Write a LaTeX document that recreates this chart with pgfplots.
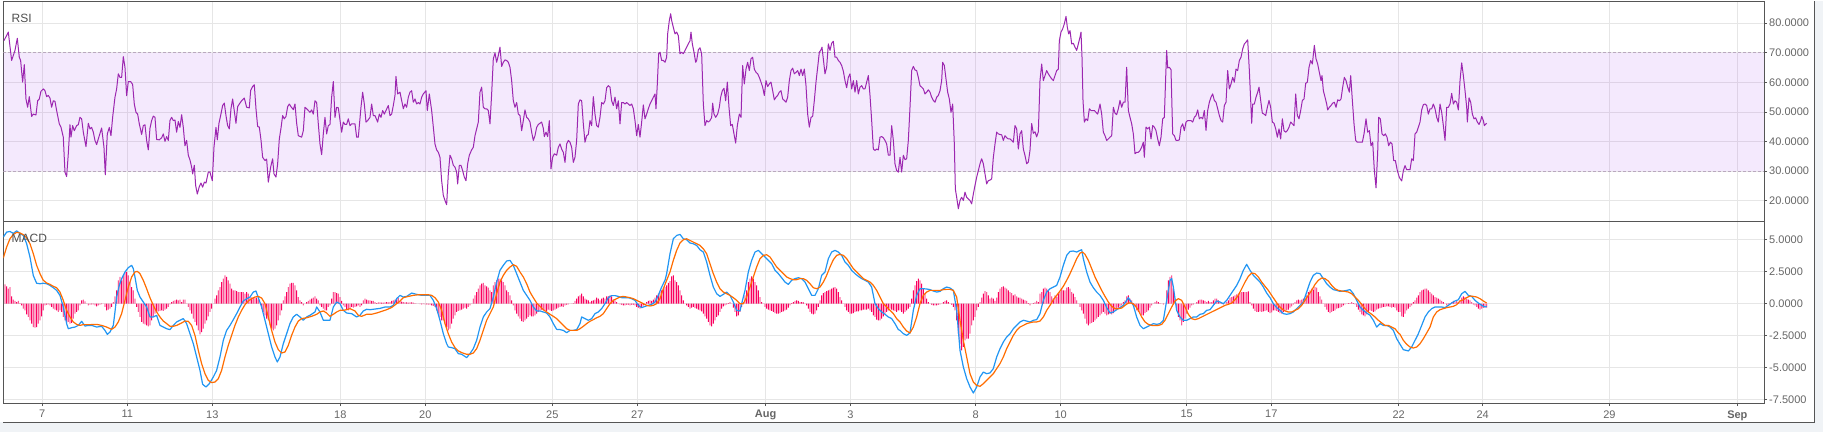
\documentclass[border=0pt]{standalone}
\usepackage{pgfplots}
\pgfplotsset{compat=1.18}
\usepackage{fontspec}
\setmainfont{Liberation Sans}
\definecolor{framecol}{RGB}{85,85,85}
\definecolor{gridcol}{RGB}{230,230,230}
\definecolor{tickcol}{RGB}{102,102,102}
\definecolor{rsicol}{RGB}{156,39,176}
\definecolor{bandcol}{RGB}{163,55,238}
\definecolor{dashcol}{RGB}{185,168,190}
\definecolor{macdcol}{RGB}{33,150,243}
\definecolor{sigcol}{RGB}{255,109,0}
\definecolor{histcol}{RGB}{250,0,95}
\definecolor{bgcol}{RGB}{240,243,246}
\definecolor{titlecol}{RGB}{80,80,80}
\pgfplotsset{panel/.style={
  scale only axis, width=1760.7pt, xmin=10, xmax=5292,
  axis line style={draw=framecol, line width=1pt},
  grid=major, major grid style={draw=gridcol, line width=1pt},
  xtick={127,382,637,1021,1276,1657,1912,2297,2551,2927,3182,3560,3814,4196,4448,4828,5212},
  ytick pos=right, yticklabel pos=right, xtick pos=bottom,
  tick align=outside, major tick length=3pt,
  tick style={draw=framecol, line width=0.8pt},
  yticklabel style={font=\fontsize{11}{13}\selectfont, text=tickcol, anchor=west, inner sep=0pt, xshift=2pt,
    /pgf/number format/fixed, /pgf/number format/fixed zerofill,
    /pgf/number format/precision=4, /pgf/number format/assume math mode=true},
}}
\begin{document}
\begin{tikzpicture}[x=1pt,y=1pt]
\fill[white] (0,0) rectangle (1823,-431);
\fill[bgcol] (0,-421.7) rectangle (1823,-431);
\fill[bgcol] (1814,0) rectangle (1823,-431);
% RSI panel
\begin{axis}[panel, at={(3.3pt,-1pt)}, anchor=north west, height=219.5pt,
  ymin=13.18, ymax=87.33, ytick={20,30,40,50,60,70,80},
  xticklabels={}, xtick style={draw=none}]
\addplot[draw=none, fill=bandcol, fill opacity=0.11, forget plot] coordinates {(10,30) (5292,30) (5292,70) (10,70)};
\addplot[dashcol, line width=0.9pt, dash pattern=on 3pt off 2pt, forget plot] coordinates {(10,70) (5292,70)};
\addplot[dashcol, line width=0.9pt, dash pattern=on 3pt off 2pt, forget plot] coordinates {(10,30) (5292,30)};
\addplot[rsicol, line width=1pt, line join=round] coordinates {
(12,74.1) (25,77) (35,67.4) (45,70.8) (52,74.9) (58,68.5) (62,67.4) (68,60.1) (73,66) (78,54.4) (83,51.6) (88,55.2) (95,48.5) (100,49.3) (108,49) (113,53.8) (118,54.4) (123,57) (130,57.8) (135,57.2) (140,55.2) (145,55.6) (150,54.7) (155,51.6) (160,53.8) (165,53.6) (170,50.5) (178,46) (183,44.9) (190,41.5) (195,29.7) (200,28.2) (205,35.9) (210,45.7) (213,41.5) (218,45.4) (223,43.7) (230,45.4) (235,45.7) (240,48.2) (245,47.7) (250,43.2) (258,38.3) (265,46.2) (270,44.3) (275,44.8) (280,43.2) (285,40.4) (290,39) (295,40.9) (305,44.6) (312,38.1) (316,28.8) (322,42.6) (328,44.8) (333,42) (338,48.2) (345,55) (350,57.8) (355,62.9) (360,61.7) (365,61.7) (370,68.7) (375,65.1) (380,55.5) (385,60.3) (392,60.3) (398,59.3) (403,52.7) (408,49.9) (413,49.3) (418,46) (425,42.4) (430,45.4) (435,45.7) (440,40.4) (445,37.2) (450,44.5) (455,47.1) (460,48.6) (465,48.2) (470,40.7) (478,40.6) (485,41.3) (490,42.6) (495,40.1) (500,41.7) (505,40.4) (510,47.1) (515,48.2) (520,47.1) (525,47.3) (530,43.2) (535,46.8) (540,44.8) (545,49.1) (550,44.8) (555,38.6) (560,40.4) (565,35.4) (570,33.8) (575,31.4) (578,29.1) (583,32) (587,25.2) (592,22.3) (598,24.8) (603,26) (608,24.6) (613,26.3) (618,26) (625,29.7) (630,29.7) (637,26.8) (642,38.1) (648,44.8) (652,40.6) (657,46.2) (662,48.8) (668,52.2) (673,53) (678,48.8) (683,45.4) (688,44.3) (693,51.1) (698,54.4) (703,50.3) (708,46.2) (713,51.8) (718,52.7) (725,53.8) (733,54.7) (740,51.6) (748,51.4) (752,57.3) (758,58.6) (763,59.2) (768,51.1) (773,45.1) (778,44.9) (783,40.6) (788,34.7) (795,33.6) (800,34.1) (805,26.3) (812,31.4) (818,34.2) (822,29.1) (828,28) (833,32.5) (838,40.9) (843,44.5) (848,48.8) (853,47.7) (858,48.5) (863,51.8) (868,52.7) (873,51.8) (880,50.8) (885,52.7) (890,46.2) (895,42) (905,41.5) (910,43.7) (915,51.6) (920,51.1) (925,50.5) (930,49.9) (935,50.7) (940,49.3) (945,53.8) (950,53.2) (955,46) (960,39.2) (965,35.6) (970,42.6) (975,48.2) (980,42.6) (985,45.4) (990,45.8) (995,55) (1000,60.3) (1005,48.2) (1010,51.6) (1015,51.4) (1020,47.3) (1025,43.2) (1030,46.6) (1035,45.8) (1040,45.8) (1045,47.7) (1050,45.4) (1055,46) (1065,46) (1070,41.5) (1075,41.5) (1083,51.6) (1088,56.7) (1093,52.7) (1098,46.6) (1103,47.1) (1110,48.2) (1115,52.7) (1120,48.8) (1125,48.8) (1133,46.6) (1138,49.3) (1143,48.2) (1148,50.5) (1153,49.3) (1158,50.5) (1165,52.2) (1170,48.8) (1175,49.3) (1180,52.2) (1185,55.6) (1188,62) (1193,56.1)
(1200,56.7) (1205,53.9) (1210,51.1) (1215,52.7) (1220,51.6) (1225,55) (1230,56.7) (1235,57.2) (1240,53.3) (1245,54.4) (1250,52.7) (1255,53.2) (1260,52.7) (1265,55) (1270,56.1) (1278,57.2) (1282,50.5) (1288,56.1) (1295,50.5) (1300,44.9) (1305,39.2) (1310,37.2) (1315,36.4) (1320,34.7) (1325,26.8) (1330,21.8) (1335,20.1) (1340,18.7) (1345,29.1) (1350,35.4) (1355,34.2) (1360,32) (1365,31.4) (1370,29.7) (1373,25.7) (1378,32) (1383,32) (1388,30.2) (1393,28) (1398,26.8) (1403,32.5) (1408,35.4) (1415,37.2) (1420,38.1) (1425,42) (1430,44.3) (1435,46.6) (1440,56.7) (1445,58.4) (1450,51.6) (1455,51.1) (1460,51.1) (1465,50.5) (1470,46) (1475,56.1) (1480,68) (1485,69.9) (1490,66.8) (1495,69.1) (1500,71.9) (1505,65.4) (1510,66.8) (1515,67.6) (1520,67.4) (1525,66.8) (1530,65.1) (1535,60.6) (1540,53.8) (1545,51.6) (1550,53.2) (1555,49.3) (1560,48.8) (1565,43.7) (1570,47.1) (1575,50.7) (1580,48.2) (1585,47.7) (1590,46.6) (1595,43.2) (1600,40.4) (1605,42) (1610,44.8) (1615,45.8) (1620,46.2) (1625,46.6) (1630,44.5) (1633,41.7) (1638,43.2) (1643,41.7) (1648,47.1) (1653,30.8) (1658,34.7) (1663,35.9) (1670,35.4) (1675,38.1) (1680,39.2) (1685,37.5) (1690,36.4) (1695,33) (1700,39.2) (1705,40.4) (1710,39.8) (1715,38.1) (1720,33) (1725,34.7) (1730,40.4) (1735,52.7) (1740,54.1) (1745,53.8) (1750,46) (1755,39.8) (1760,42) (1765,42.4) (1770,47.1) (1775,45.4) (1780,55.2) (1785,49.3) (1790,45.4) (1795,44.9) (1800,48.2) (1805,53.2) (1810,52.7) (1815,53.8) (1820,58.2) (1825,58.9) (1830,58.4) (1835,53.8) (1840,52.2) (1845,55) (1850,51.1) (1855,53.8) (1860,46) (1865,53.2) (1870,53.2) (1875,52.7) (1880,53.2) (1890,52.2) (1895,52.7) (1900,51.1) (1905,47.1) (1910,42) (1915,45.8) (1920,41.5) (1925,46.6) (1930,52.4) (1935,47.7) (1940,49.3) (1945,51.1) (1950,52.7) (1955,53.8) (1960,55) (1965,56.1) (1968,51.1) (1972,59.5) (1976,69.7) (1980,70.2) (1985,67.4) (1990,67.4) (1995,66.8) (2000,68.5) (2003,76.4) (2008,80.9) (2012,83.2) (2015,80.9) (2020,78.6) (2025,76.4) (2030,77) (2035,75.8) (2040,69.7) (2045,70.2) (2050,69.7) (2055,70.8) (2060,71.9) (2065,73) (2070,74.1) (2073,77) (2077,73) (2082,70.2) (2087,66.8) (2090,67.4) (2095,71) (2100,71.7) (2105,69.7) (2110,52.7) (2115,45.4) (2120,47.1) (2125,46.6) (2130,47.1) (2135,48.2) (2138,53) (2142,49.3) (2147,48.2) (2153,49.3) (2158,51.6) (2162,55) (2167,57.2) (2172,58) (2177,53.8) (2182,60.1) (2187,51.6) (2192,45.4) (2197,45.8) (2202,42.6) (2207,39.5) (2212,45.4) (2218,49.3) (2223,48.2) (2228,65.7) (2233,59.5) (2238,64.5) (2243,66.8) (2248,64) (2253,68) (2258,68.5) (2263,64.5) (2268,63.4) (2273,62.9) (2278,61.7) (2283,60.1) (2288,58.4) (2293,55.6) (2298,60.6) (2303,58.6) (2308,59.5) (2313,60.1) (2318,57.2) (2323,54.1) (2328,55) (2333,55.6) (2338,56.7) (2343,57.2) (2348,54.4) (2353,53.9) (2358,53.3) (2363,55) (2368,60.6) (2373,64) (2378,64.8) (2383,62.9) (2388,63.4) (2393,64) (2398,62.3) (2403,64.5) (2408,62.3) (2413,64.5) (2418,58.9) (2423,49.3) (2428,44.9) (2433,48.2) (2438,48.5) (2443,53.9) (2448,60.1) (2453,65.1) (2458,70.2) (2463,71) (2466,71.9) (2470,67.9) (2475,62.9) (2480,65.1) (2485,73) (2490,70.8) (2495,73.2) (2500,73.9) (2505,68.5) (2510,68.5) (2515,67.4) (2520,66.8) (2525,65.7) (2530,63.8) (2535,60.6) (2540,58.2) (2545,61.7) (2550,62.9) (2555,57.8) (2560,60.6) (2565,56.7) (2570,60.6) (2575,56.1) (2580,58.4) (2585,58.9) (2590,57.8) (2595,57.8) (2600,60.1) (2605,62.3) (2610,55.6) (2615,47.1) (2620,37.5) (2625,37) (2630,37.5) (2635,37.2) (2640,41.5) (2645,41.7) (2650,41.3) (2655,40.4) (2660,39.2) (2665,35.4) (2670,35.4) (2675,45.4) (2680,40.4) (2685,32.5) (2690,30.2) (2695,29.7)
(2700,34.7) (2705,29.7) (2710,35.4) (2715,33.9) (2720,34.2) (2725,40.4) (2730,51.6) (2735,64) (2740,65.4) (2745,64.2) (2750,64) (2755,61.7) (2760,58.9) (2765,58.4) (2770,57.8) (2775,56.1) (2780,56.7) (2785,57.5) (2790,56.7) (2795,55) (2800,53.9) (2805,53.3) (2810,55) (2815,55.6) (2820,57.2) (2825,60.6) (2828,66.8) (2833,65.7) (2838,61.2) (2843,56.7) (2848,54.4) (2853,49.9) (2858,52.7) (2863,39.2) (2866,24) (2870,21.2) (2875,17.3) (2880,20.1) (2885,21.2) (2890,20.1) (2895,22.9) (2900,21.2) (2905,20.6) (2910,20.1) (2915,19) (2920,22.3) (2925,25.2) (2930,28) (2935,30.2) (2940,32.5) (2945,34.2) (2950,32.5) (2955,29.1) (2960,25.7) (2965,26.8) (2970,27) (2975,27.4) (2980,34.7) (2985,39.2) (2990,43.2) (2995,42.6) (3000,42.4) (3005,42.3) (3010,40.4) (3015,42) (3020,41.3) (3025,40.9) (3030,40.9) (3035,40.4) (3040,39.8) (3045,45.4) (3050,44.3) (3055,37.5) (3060,42.6) (3065,43.7) (3070,37.5) (3075,35.3) (3080,32.5) (3085,33.1) (3090,37.1) (3095,46.1) (3100,42.8) (3105,43.3) (3110,41.6) (3115,43.3) (3120,60.6) (3125,66.2) (3130,60.6) (3135,62.3) (3140,64) (3145,62.9) (3150,62) (3155,61.2) (3160,60.6) (3165,62.3) (3170,64) (3175,64.5) (3178,74.1) (3183,77) (3188,78.1) (3193,79.8) (3198,82.3) (3202,78.6) (3206,76.4) (3210,77.5) (3215,73) (3220,73.2) (3225,71.9) (3230,70.8) (3235,73) (3240,75.3) (3243,77) (3246,68.5) (3249,53.9) (3253,46.6) (3258,47.7) (3263,47.1) (3268,51.1) (3273,50.5) (3283,50.5) (3288,49.9) (3293,49.3) (3298,51.6) (3300,52.7) (3305,49.3) (3310,43.2) (3315,42) (3320,40.4) (3325,40.9) (3330,41.5) (3335,42) (3340,51.6) (3345,49.6) (3350,49.1) (3355,51.1) (3360,53.9) (3365,51.6) (3370,53.3) (3375,53.3) (3380,65.1) (3385,50.5) (3390,48.2) (3395,46) (3400,42.6) (3405,35.9) (3410,36.4) (3415,36.4) (3420,37) (3425,38.1) (3430,39.8) (3433,34.7) (3438,44.9) (3443,44.3) (3448,44.9) (3453,40.9) (3458,45.4) (3463,44.9) (3468,43.7) (3473,40.9) (3478,38.6) (3483,41.5) (3488,47.7) (3493,48.2) (3497,61.7) (3500,70.8) (3503,64.9) (3508,65.1) (3513,64.3) (3518,42.6) (3523,42) (3528,40.4) (3533,40.4) (3538,40.6) (3543,44.9) (3548,46) (3553,43.7) (3558,46.6) (3563,47.1) (3573,47.1) (3578,46.6) (3583,48.2) (3588,48.8) (3593,50.7) (3598,47.7) (3603,48.2) (3608,47.7) (3613,50.5) (3618,43.8) (3623,50.5) (3628,53.3) (3633,55) (3638,56.1) (3643,53.9) (3648,53.3) (3653,51.1) (3658,48.8) (3663,47.1) (3668,46.6) (3673,52.2) (3678,53.3) (3683,64) (3688,57.8) (3693,59.5) (3698,61.7) (3703,60.1) (3708,64.5) (3713,64) (3718,67.4) (3723,68.5) (3728,71.3) (3733,73) (3738,73.6) (3743,74.4) (3748,64) (3752,53.9) (3755,46.2) (3758,52.7) (3763,52.7) (3768,55) (3773,56.7) (3777,58.4) (3782,53.9) (3787,49.6) (3792,49.3) (3797,48.8) (3802,51.6) (3807,53.9) (3812,51.6) (3817,46.6) (3822,46.2) (3827,44.3) (3832,41.5) (3837,44.3) (3842,40.9) (3847,47.7) (3852,43.7) (3857,43.2) (3862,43.7) (3867,44.9) (3872,46.6) (3877,46) (3882,45.4) (3887,56.1) (3892,48.8) (3897,47.7) (3902,50.5) (3907,53.9) (3912,54.4) (3917,59.7) (3922,60.1) (3927,65.1) (3932,67.4) (3937,66.2) (3943,72.5) (3948,68) (3953,66.2) (3958,63.4) (3963,60.6) (3966,62.3) (3970,57.2) (3975,55) (3980,52.7) (3983,50.7) (3988,51.6) (3993,52.2) (3998,53) (4003,53.3) (4008,51.6) (4013,54.1) (4018,53.8) (4023,54.4) (4028,58.4) (4033,61.7) (4038,60.6) (4043,58.4) (4048,56.7) (4052,62.3) (4057,53.9) (4062,46) (4067,40.4) (4072,39.8) (4087,39.8) (4092,42.6) (4098,47.7) (4103,43.2) (4108,43.7) (4113,38.6) (4118,39.8) (4123,30.2) (4128,24.4) (4133,36.4) (4136,48.2) (4141,47.7) (4146,42.6) (4151,42) (4156,42.6) (4161,41.5) (4166,38.6) (4171,39.8) (4176,39.2) (4181,33.6) (4186,33.6) (4192,30.2) (4198,27.9)
(4205,26.7) (4210,30.2) (4215,31.9) (4220,30.5) (4230,30.5) (4235,34.2) (4240,33.6) (4245,42.6) (4250,43.2) (4255,44.9) (4260,46.6) (4265,50.7) (4270,52.5) (4275,52.7) (4280,52.2) (4285,49.3) (4290,51.1) (4295,51.1) (4300,52.7) (4305,51.1) (4310,48.2) (4315,46.6) (4320,52.7) (4325,49.9) (4330,45.4) (4335,40.4) (4340,51.6) (4345,51.6) (4350,52.7) (4355,56.3) (4360,52.7) (4365,53.8) (4370,53.3) (4375,50.7) (4380,60.6) (4385,66.6) (4390,62.3) (4395,57.2) (4400,51.6) (4402,46.6) (4407,54.8) (4412,53.3) (4417,49.3) (4422,47.7) (4427,48) (4432,46.6) (4437,45.8) (4442,47.1) (4445,48.5) (4450,47.1) (4453,45.4) (4458,46) (4460,46.2)
};
\end{axis}
% MACD panel
\begin{axis}[panel, at={(3.3pt,-220.5pt)}, anchor=north west, height=182.2pt,
  ymin=-7.79, ymax=6.47, ytick={-7.5,-5,-2.5,0,2.5,5},
  xticklabels={7,11,13,18,20,25,27,\textbf{Aug},3,8,10,15,17,22,24,29,\textbf{Sep}},
  xticklabel style={font=\fontsize{11}{13}\selectfont, text=tickcol, anchor=north, inner sep=0pt, yshift=-4pt}]
\addplot[ybar, bar width=0.85pt, draw=none, fill=histcol] coordinates {
(15,1.51) (20,1.36) (25,1.17) (30,1.3) (35,0.57) (40,0.31) (45,0.21) (50,0.13) (55,0.21) (60,0.05) (65,-0.13) (70,-0.39) (75,-0.52) (80,-0.83) (85,-1.04) (90,-1.3) (95,-1.56) (100,-1.83) (105,-1.88) (110,-1.83) (115,-1.56) (120,-1.3) (125,-0.99) (130,-0.52) (135,-0.13) (140,-0.08) (145,-0.05) (150,-0.13) (155,-0.26) (160,-0.39) (165,-0.47) (170,-0.52) (175,-0.65) (180,-0.52) (185,-0.65) (190,-1.04) (195,-1.3) (200,-1.51) (205,-1.43) (210,-1.56) (215,-1.51) (220,-1.17) (225,-0.78) (230,-0.65) (235,-0.52) (240,-0.13) (245,0.26) (250,0.31) (255,0.18) (260,0) (265,-0.13) (270,-0.08) (275,-0.05) (280,-0.05) (285,-0.13) (290,-0.21) (295,-0.13) (300,-0.08) (305,-0.03) (310,0) (315,-0.26) (320,-0.52) (325,-0.47) (330,-0.39) (335,-0.26) (340,0.13) (345,0.57) (350,1.04) (355,1.83) (360,2.09) (365,1.83) (370,2.22) (375,2.48) (380,2.48) (385,2.22) (390,1.69) (395,1.3) (400,1.04) (405,0.39) (410,-0.26) (415,-0.65) (420,-1.04) (425,-1.43) (430,-1.56) (435,-1.62) (440,-1.7) (445,-1.77) (450,-1.7) (455,-1.3) (460,-1.04) (465,-0.78) (470,-0.65) (475,-0.6) (480,-0.57) (485,-0.52) (490,-0.57) (495,-0.47) (500,-0.39) (505,-0.26) (510,-0.05) (515,0.13) (520,0.21) (525,0.26) (530,0.31) (535,0.26) (540,0.31) (545,0.13) (550,0.31) (555,0.31) (560,0) (565,-0.26) (570,-0.52) (575,-0.78) (580,-1.17) (585,-1.43) (590,-1.7) (595,-2.09) (600,-2.4) (605,-2.22) (610,-1.96) (615,-1.56) (620,-1.3) (625,-0.99) (630,-0.65) (635,-0.39) (640,0) (645,0.39) (650,0.65) (655,1.04) (660,1.3) (665,1.69) (670,1.96) (675,2.22) (680,2.09) (685,1.83) (690,1.56) (695,1.17) (700,1.04) (705,1.04) (710,0.99) (715,0.91) (720,0.91) (725,0.91) (730,0.91) (735,0.78) (740,0.91) (745,0.78) (750,0.52) (755,0.47) (760,0.47) (765,0.47) (770,0.47) (775,0.31) (780,0) (785,-0.39) (790,-0.65) (795,-0.91) (800,-1.17) (805,-1.3) (810,-1.7) (815,-1.96) (820,-2.09) (825,-1.96) (830,-1.7) (835,-1.3) (840,-0.91) (845,-0.52) (850,0.26) (855,0.57) (860,0.91) (865,1.3) (870,1.56) (875,1.62) (880,1.62) (885,1.43) (890,1.04) (895,0.52) (900,0.26) (905,0.13) (910,-0.13) (915,0) (920,0.13) (925,0.21) (930,0.31) (935,0.39) (940,0.47) (945,0.57) (950,0.39) (955,0.26) (960,-0.13) (965,-0.26) (970,-0.39) (975,-0.52) (980,-0.52) (985,-0.26) (990,-0.13) (995,0.4) (1000,0.91) (1005,0.91) (1010,0.83) (1015,0.78) (1020,0.52) (1025,0.21) (1030,-0.13) (1035,-0.26) (1040,-0.47) (1045,-0.52) (1050,-0.39) (1055,-0.26) (1060,-0.31) (1065,-0.26) (1070,-0.21) (1075,-0.13) (1080,-0.26) (1085,-0.13) (1090,0.26) (1095,0.39) (1100,0.31) (1105,0.26) (1110,0.26) (1115,0.21) (1120,0.21) (1125,0.13) (1130,0.05) (1135,0.1) (1140,0.1) (1145,0.08) (1150,0.08) (1155,0.1) (1160,0.13) (1165,0.1) (1170,0.13) (1175,0.21) (1180,0.26) (1185,0.31) (1190,0.39) (1195,0.47)
(1200,0.21) (1205,0.16) (1210,0.13) (1215,0.1) (1220,0.1) (1225,0.08) (1230,0.1) (1235,0.1) (1240,0.08) (1245,0.05) (1250,0) (1255,0) (1260,-0.03) (1265,-0.05) (1270,-0.03) (1275,-0.05) (1280,-0.05) (1285,-0.08) (1290,-0.08) (1295,-0.13) (1300,-0.18) (1305,-0.26) (1310,-0.52) (1315,-0.78) (1320,-1.04) (1325,-1.3) (1330,-1.3) (1335,-1.56) (1340,-1.83) (1345,-2.09) (1350,-1.96) (1355,-1.56) (1360,-1.17) (1365,-0.91) (1370,-0.65) (1375,-0.57) (1380,-0.52) (1385,-0.47) (1390,-0.39) (1395,-0.31) (1400,-0.39) (1405,-0.26) (1410,-0.13) (1415,0) (1420,0.39) (1425,0.65) (1430,0.91) (1435,1.17) (1440,1.43) (1445,1.56) (1450,1.62) (1455,1.43) (1460,1.36) (1465,1.25) (1470,1.04) (1475,0.91) (1480,1.43) (1485,1.69) (1490,1.83) (1495,1.96) (1500,1.96) (1505,1.83) (1510,1.69) (1515,1.43) (1520,1.04) (1525,0.91) (1530,0.65) (1535,0.26) (1540,-0.13) (1545,-0.52) (1550,-0.78) (1555,-0.99) (1560,-1.17) (1565,-1.36) (1570,-1.43) (1575,-1.3) (1580,-1.17) (1585,-1.04) (1590,-0.91) (1595,-0.99) (1600,-0.99) (1605,-0.91) (1610,-0.78) (1615,-0.65) (1620,-0.52) (1625,-0.47) (1630,-0.52) (1635,-0.52) (1640,-0.57) (1645,-0.47) (1650,-0.52) (1655,-0.57) (1660,-0.52) (1665,-0.47) (1670,-0.39) (1675,-0.31) (1680,-0.26) (1685,-0.21) (1690,-0.26) (1695,-0.13) (1700,-0.08) (1705,-0.05) (1710,0) (1715,0) (1720,0.05) (1725,0.21) (1730,0.39) (1735,0.57) (1740,0.65) (1745,0.78) (1750,0.57) (1755,0.39) (1760,0.31) (1765,0.26) (1770,0.13) (1775,0.21) (1780,0.26) (1785,0.31) (1790,0.47) (1795,0.39) (1800,0.26) (1805,0.39) (1810,0.47) (1815,0.39) (1820,0.57) (1825,0.57) (1830,0.65) (1835,0.57) (1840,0.31) (1845,0.26) (1850,0.13) (1855,0) (1860,-0.05) (1865,-0.08) (1870,-0.13) (1875,-0.13) (1880,-0.08) (1885,-0.08) (1890,-0.13) (1895,-0.08) (1900,-0.08) (1905,-0.13) (1910,-0.26) (1915,-0.31) (1920,-0.39) (1925,-0.26) (1930,-0.13) (1935,0) (1940,0.13) (1945,0.21) (1950,0.26) (1955,0.21) (1960,0.31) (1965,0.47) (1970,0.65) (1975,0.78) (1980,0.91) (1985,1.04) (1990,1.17) (1995,1.3) (2000,1.43) (2005,1.62) (2010,1.77) (2015,2.14) (2020,2.22) (2025,1.83) (2030,1.69) (2035,1.43) (2040,1.04) (2045,0.65) (2050,0.26) (2055,0) (2060,-0.13) (2065,-0.26) (2070,-0.39) (2075,-0.31) (2080,-0.26) (2085,-0.34) (2090,-0.39) (2095,-0.47) (2100,-0.52) (2105,-0.6) (2110,-0.78) (2115,-0.99) (2120,-1.17) (2125,-1.43) (2130,-1.7) (2135,-1.77) (2140,-1.56) (2145,-1.3) (2150,-1.04) (2155,-0.91) (2160,-0.65) (2165,-0.39) (2170,-0.21) (2175,-0.13) (2180,-0.05) (2185,0.05) (2190,0.13) (2195,0) (2200,-0.31) (2205,-0.65) (2210,-0.99) (2215,-0.91) (2220,-0.65) (2225,-0.26) (2230,0.13) (2235,0.65) (2240,1.04) (2245,1.69) (2250,1.96) (2255,2.14) (2260,1.96) (2265,1.69) (2270,1.43) (2275,1.04) (2280,0.52) (2285,0.13) (2290,0) (2295,-0.26) (2300,-0.39) (2305,-0.47) (2310,-0.52) (2315,-0.57) (2320,-0.65) (2325,-0.73) (2330,-0.78) (2335,-0.78) (2340,-0.73) (2345,-0.65) (2350,-0.6) (2355,-0.52) (2360,-0.47) (2365,-0.31) (2370,-0.13) (2375,0.05) (2380,0.13) (2385,0.21) (2390,0.26) (2395,0.21) (2400,0.13) (2405,0.13) (2410,0.1) (2415,0) (2420,-0.13) (2425,-0.39) (2430,-0.65) (2435,-0.78) (2440,-0.83) (2445,-0.78) (2450,-0.52) (2455,-0.26) (2460,0.26) (2465,0.65) (2470,0.83) (2475,0.91) (2480,0.99) (2485,1.04) (2490,1.1) (2495,1.17) (2500,1.25) (2505,1.3) (2510,1.17) (2515,0.91) (2520,0.52) (2525,0.26) (2530,0) (2535,-0.26) (2540,-0.52) (2545,-0.65) (2550,-0.78) (2555,-0.78) (2560,-0.73) (2565,-0.65) (2570,-0.6) (2575,-0.6) (2580,-0.52) (2585,-0.52) (2590,-0.47) (2595,-0.47) (2600,-0.47) (2605,-0.39) (2610,-0.52) (2615,-0.65) (2620,-0.91) (2625,-1.04) (2630,-1.25) (2635,-1.3) (2640,-1.3) (2645,-1.17) (2650,-0.99) (2655,-0.78) (2660,-0.65) (2665,-0.52) (2670,-0.39) (2675,-0.47) (2680,-0.52) (2685,-0.57) (2690,-0.65) (2695,-0.52)
(2700,-0.52) (2705,-0.65) (2710,-0.78) (2715,-0.65) (2720,-0.52) (2725,-0.39) (2730,-0.26) (2735,0.39) (2740,1.04) (2745,1.43) (2750,1.77) (2755,1.96) (2760,1.83) (2765,1.56) (2770,1.17) (2775,0.78) (2780,0.39) (2785,0.13) (2790,0) (2795,-0.08) (2800,-0.13) (2805,-0.13) (2810,-0.13) (2815,-0.08) (2820,-0.05) (2825,0) (2830,0.13) (2835,0.21) (2840,0.26) (2845,0.13) (2850,0) (2855,-0.08) (2860,-0.26) (2865,-0.52) (2870,-1.3) (2875,-2.35) (2880,-3.13) (2885,-3.65) (2890,-3.39) (2895,-2.87) (2900,-2.74) (2905,-2.74) (2910,-2.35) (2915,-1.7) (2920,-1.3) (2925,-1.04) (2930,-0.52) (2935,-0.26) (2940,0.13) (2945,0.47) (2950,0.78) (2955,0.99) (2960,0.91) (2965,0.65) (2970,0.39) (2975,0.47) (2980,0.39) (2985,0.21) (2990,0.47) (2995,0.91) (3000,1.17) (3005,1.3) (3010,1.36) (3015,1.25) (3020,1.17) (3025,1.04) (3030,0.91) (3035,0.83) (3040,0.65) (3045,0.73) (3050,0.57) (3055,0.47) (3060,0.47) (3065,0.39) (3070,0.31) (3075,0.26) (3080,0.21) (3085,0.05) (3090,-0.13) (3095,0) (3100,0.05) (3105,0.1) (3110,0.21) (3115,0.13) (3120,0.78) (3125,0.91) (3130,1.17) (3135,1.25) (3140,1.17) (3145,1.04) (3150,0.91) (3155,0.57) (3160,0.39) (3165,0.65) (3170,0.52) (3175,0.78) (3180,0.91) (3185,1.17) (3190,1.04) (3195,1.04) (3200,1.25) (3205,1.3) (3210,1.17) (3215,0.91) (3220,0.78) (3225,0.52) (3230,0.26) (3235,0) (3240,-0.26) (3245,-0.52) (3250,-0.78) (3255,-1.17) (3260,-1.56) (3265,-1.7) (3270,-1.56) (3275,-1.51) (3280,-1.43) (3285,-1.3) (3290,-1.17) (3295,-1.04) (3300,-0.91) (3305,-0.78) (3310,-0.65) (3315,-0.78) (3320,-0.91) (3325,-0.83) (3330,-0.78) (3335,-0.83) (3340,-0.73) (3345,-0.52) (3350,-0.47) (3355,-0.31) (3360,-0.21) (3365,-0.13) (3370,0.13) (3375,0.26) (3380,0.57) (3385,0.65) (3390,0.39) (3395,0.26) (3400,0.05) (3405,-0.26) (3410,-0.52) (3415,-0.65) (3420,-0.78) (3425,-0.91) (3430,-0.91) (3435,-0.73) (3440,-0.65) (3445,-0.52) (3450,-0.31) (3455,-0.13) (3460,0) (3465,0.13) (3470,0.21) (3475,0.13) (3480,0.05) (3485,0) (3490,-0.05) (3495,0) (3500,1.04) (3505,1.83) (3510,2.09) (3515,2.22) (3520,1.17) (3525,0.39) (3530,-0.52) (3535,-1.04) (3540,-1.3) (3545,-1.7) (3550,-1.43) (3555,-1.17) (3560,-0.78) (3565,-0.47) (3570,-0.31) (3575,-0.13) (3580,-0.05) (3585,0) (3590,0.13) (3595,0.26) (3600,0.31) (3605,0.31) (3610,0.26) (3615,0.21) (3620,0.13) (3625,0.21) (3630,0.13) (3635,0.13) (3640,0.26) (3645,0.39) (3650,0.39) (3655,0.26) (3660,0.13) (3665,0.05) (3670,-0.05) (3675,0) (3680,0.13) (3685,0.26) (3690,0.47) (3695,0.52) (3700,0.57) (3705,0.65) (3710,0.73) (3715,0.78) (3720,0.83) (3725,0.91) (3730,0.91) (3735,0.91) (3740,0.91) (3745,0.96) (3750,0.13) (3755,-0.13) (3760,-0.39) (3765,-0.57) (3770,-0.65) (3775,-0.65) (3780,-0.6) (3785,-0.65) (3790,-0.6) (3795,-0.57) (3800,-0.52) (3805,-0.65) (3810,-0.73) (3815,-0.68) (3820,-0.52) (3825,-0.52) (3830,-0.57) (3835,-0.65) (3840,-0.73) (3845,-0.78) (3850,-0.65) (3855,-0.57) (3860,-0.52) (3865,-0.47) (3870,-0.31) (3875,-0.21) (3880,-0.05) (3885,0.13) (3890,0.26) (3895,0.31) (3900,0.26) (3905,0.31) (3910,0.39) (3915,0.47) (3920,0.65) (3925,0.91) (3930,1.04) (3935,1.17) (3940,1.1) (3945,1.3) (3950,1.25) (3955,0.91) (3960,0.57) (3965,0.31) (3970,0) (3975,-0.26) (3980,-0.47) (3985,-0.65) (3990,-0.73) (3995,-0.65) (4000,-0.57) (4005,-0.52) (4010,-0.39) (4015,-0.34) (4020,-0.31) (4025,-0.26) (4030,-0.13) (4035,-0.05) (4040,0) (4045,0.05) (4050,0.05) (4055,0.13) (4060,0.05) (4065,-0.05) (4070,-0.26) (4075,-0.47) (4080,-0.65) (4085,-0.83) (4090,-0.91) (4095,-0.99) (4100,-0.83) (4105,-0.65) (4110,-0.52) (4115,-0.57) (4120,-0.65) (4125,-0.6) (4130,-0.47) (4135,-0.39) (4140,-0.34) (4145,-0.31) (4150,-0.26) (4155,-0.26) (4160,-0.21) (4165,-0.21) (4170,-0.26) (4175,-0.31) (4180,-0.26) (4185,-0.31) (4190,-0.52) (4195,-0.65)
(4200,-0.65) (4205,-0.99) (4210,-1.04) (4215,-0.78) (4220,-0.52) (4225,-0.39) (4230,-0.26) (4235,-0.13) (4240,0.13) (4245,0.26) (4250,0.47) (4255,0.65) (4260,0.91) (4265,1.04) (4270,1.1) (4275,1.17) (4280,1.17) (4285,1.04) (4290,0.91) (4295,0.78) (4300,0.65) (4305,0.52) (4310,0.47) (4315,0.39) (4320,0.31) (4325,0.21) (4330,0.13) (4335,0) (4340,-0.13) (4345,-0.05) (4350,0.05) (4355,0.13) (4360,0.21) (4365,0.13) (4370,0.21) (4375,0.13) (4380,0.26) (4385,0.47) (4390,0.57) (4395,0.52) (4400,0.39) (4405,0.31) (4410,0.26) (4415,0.13) (4420,-0.05) (4425,-0.13) (4430,-0.26) (4435,-0.39) (4440,-0.47) (4445,-0.39) (4450,-0.31) (4455,-0.26) (4460,-0.31)
};
\addplot[macdcol, line width=1.2pt, line join=round] coordinates {
(10,5.21) (20,5.6) (30,5.65) (40,5.5) (50,5.7) (60,5.5) (70,5.34) (80,4.7) (90,3.65) (100,2.2) (110,1.6) (120,1.56) (130,1.6) (140,1.56) (150,1.43) (160,1.25) (170,1.04) (180,0.65) (190,-0.26) (200,-1.56) (205,-1.96) (215,-1.88) (225,-1.83) (235,-1.7) (245,-1.38) (255,-1.75) (265,-1.7) (275,-1.7) (290,-1.83) (305,-1.77) (315,-2.09) (322,-2.4) (330,-2.22) (340,-1.7) (345,-0.65) (350,0.52) (358,1.43) (365,1.96) (375,2.48) (385,2.82) (395,3) (400,2.74) (405,2.09) (412,1.04) (420,0.52) (430,0.13) (440,-0.26) (450,-1.04) (460,-1.04) (470,-0.91) (480,-1.7) (490,-1.83) (500,-1.96) (510,-2.03) (520,-1.7) (530,-1.43) (540,-1.3) (550,-1.17) (560,-1.56) (570,-2.35) (580,-3.13) (590,-4.17) (600,-5.22) (608,-6.31) (618,-6.52) (628,-6.26) (640,-5.74) (650,-5.22) (660,-4.17) (670,-2.87) (680,-2.09) (690,-1.7) (700,-1.25) (710,-0.78) (720,-0.26) (730,0.21) (740,0.39) (750,0.52) (760,0.91) (768,0.99) (775,0.47) (785,-0.26) (795,-1.3) (805,-2.35) (815,-3.39) (825,-4.17) (832,-4.56) (840,-4.17) (850,-3.13) (860,-2.35) (870,-1.56) (880,-1.04) (890,-0.83) (900,-1.04) (910,-1.3) (920,-1.04) (930,-0.91) (945,-0.65) (950,-0.26) (960,-0.65) (970,-1.3) (990,-1.3) (1000,-0.26) (1010,0.13) (1020,0) (1030,-0.52) (1040,-0.73) (1055,-0.78) (1070,-1.04) (1080,-0.91) (1090,-0.57) (1100,-0.44) (1110,-0.47) (1125,-0.42) (1140,-0.37) (1155,-0.26) (1170,-0.26) (1180,-0.13) (1190,0.39)
(1200,0.65) (1210,0.52) (1220,0.57) (1235,0.83) (1250,0.73) (1265,0.65) (1290,0.65) (1300,0.26) (1310,-0.39) (1320,-1.3) (1330,-2.35) (1340,-3.13) (1345,-3.39) (1355,-3.44) (1365,-3.52) (1375,-3.91) (1385,-3.96) (1400,-4.22) (1410,-3.91) (1420,-3.52) (1430,-2.87) (1440,-1.83) (1450,-1.04) (1460,-0.65) (1470,-0.39) (1480,0.52) (1490,1.69) (1500,2.61) (1510,3) (1520,3.34) (1530,3.39) (1540,3) (1550,2.35) (1560,1.69) (1570,1.04) (1580,0.65) (1590,0.26) (1600,-0.26) (1610,-0.57) (1620,-0.57) (1630,-0.65) (1640,-0.73) (1650,-1.04) (1660,-1.56) (1670,-2.01) (1680,-2.03) (1690,-2.09) (1700,-2.27) (1710,-2.09) (1720,-2.09) (1730,-2.03) (1740,-1.56) (1745,-1.04) (1755,-1.17) (1765,-1.3) (1775,-1.17) (1785,-0.78) (1795,-0.65) (1805,-0.39) (1815,0) (1825,0.47) (1835,0.63) (1845,0.63) (1855,0.57) (1865,0.47) (1885,0.47) (1895,0.39) (1905,0.26) (1915,-0.13) (1925,-0.31) (1935,-0.21) (1945,-0.13) (1955,-0.05) (1965,0.13) (1975,0.65) (1985,1.3) (1995,1.83) (2000,2.35) (2010,3.91) (2020,5.08) (2030,5.34) (2040,5.42) (2050,5.08) (2060,5) (2070,4.75) (2080,4.69) (2090,4.56) (2100,4.22) (2110,4.04) (2120,3.26) (2130,2.22) (2140,1.3) (2150,0.78) (2160,0.57) (2170,0.73) (2180,0.91) (2190,0.65) (2200,0.13) (2210,-0.52) (2220,-0.57) (2225,0) (2235,1.04) (2245,2.48) (2255,3.39) (2265,4.04) (2275,4.17) (2285,3.91) (2295,3.65) (2305,3.39) (2315,3.13) (2325,2.61) (2335,2.35) (2345,2.03) (2355,1.69) (2365,1.51) (2375,1.83) (2385,1.96) (2395,2.03) (2405,1.96) (2415,1.69) (2425,1.17) (2435,0.65) (2445,0.65) (2455,1.17) (2465,2.22) (2475,2.48) (2485,3.52) (2495,4.04) (2505,4.17) (2515,4.04) (2525,3.78) (2535,3.26) (2545,3) (2555,2.61) (2565,2.35) (2575,2.14) (2585,1.96) (2595,1.83) (2605,1.69) (2615,1.3) (2625,0) (2635,-0.39) (2645,-0.65) (2655,-0.83) (2665,-1.04) (2675,-1.17) (2685,-1.56) (2695,-2.03)
(2700,-2.09) (2710,-2.35) (2720,-2.48) (2730,-2.29) (2740,-0.52) (2750,0.65) (2760,1.17) (2770,1.17) (2780,1.15) (2790,1.1) (2800,0.99) (2810,0.91) (2820,0.96) (2830,1.17) (2840,1.3) (2850,1.23) (2860,1.04) (2870,-0.52) (2875,-2.09) (2880,-3.65) (2890,-4.95) (2900,-5.87) (2910,-6.52) (2920,-6.99) (2930,-6.52) (2940,-5.74) (2950,-5.35) (2960,-5.48) (2970,-5.42) (2980,-5.08) (2990,-4.17) (3000,-3.52) (3010,-3) (3020,-2.61) (3030,-2.35) (3040,-1.96) (3050,-1.7) (3060,-1.43) (3070,-1.3) (3080,-1.36) (3090,-1.43) (3100,-1.3) (3110,-1.25) (3120,-0.78) (3130,0.26) (3140,0.91) (3150,1.17) (3160,1.3) (3170,1.43) (3180,2.09) (3190,3) (3200,3.78) (3210,4.09) (3220,4.12) (3230,4.04) (3240,4.17) (3245,4.22) (3250,3.52) (3260,2.48) (3270,1.69) (3280,1.25) (3290,0.91) (3300,0.65) (3310,0.26) (3320,-0.31) (3330,-0.73) (3340,-0.65) (3350,-0.47) (3360,-0.31) (3370,-0.13) (3380,0.26) (3385,0.47) (3390,0.26) (3400,-0.13) (3410,-1.04) (3420,-1.7) (3430,-1.96) (3440,-1.83) (3450,-1.7) (3460,-1.56) (3470,-1.62) (3480,-1.56) (3490,-1.3) (3500,0.26) (3510,1.83) (3515,1.96) (3520,1.3) (3530,-0.52) (3540,-1.04) (3550,-1.3) (3560,-1.3) (3570,-1.17) (3580,-1.04) (3590,-1.04) (3600,-0.83) (3610,-0.78) (3620,-0.52) (3630,-0.47) (3640,-0.13) (3650,0.21) (3660,0.13) (3670,0) (3680,0.26) (3690,0.65) (3700,1.04) (3710,1.43) (3720,1.96) (3730,2.61) (3740,3.08) (3750,2.61) (3760,2.22) (3770,1.96) (3780,1.69) (3790,1.3) (3800,0.83) (3810,0.47) (3820,0) (3830,-0.31) (3840,-0.52) (3850,-0.78) (3860,-0.83) (3870,-0.78) (3880,-0.65) (3890,-0.39) (3900,-0.13) (3910,0.13) (3920,0.91) (3930,1.69) (3940,2.22) (3950,2.4) (3960,2.35) (3970,1.96) (3980,1.56) (3990,1.3) (4000,1.1) (4010,1.04) (4020,0.96) (4030,0.99) (4040,1.04) (4050,1.1) (4060,0.78) (4070,0.26) (4080,-0.26) (4090,-0.52) (4100,-0.73) (4110,-0.91) (4120,-1.3) (4130,-1.83) (4140,-1.56) (4150,-1.7) (4160,-1.7) (4170,-1.83) (4180,-2.09) (4190,-2.74)
(4200,-3.18) (4210,-3.6) (4225,-3.7) (4235,-3.39) (4245,-2.87) (4255,-2.35) (4265,-1.7) (4275,-1.04) (4285,-0.65) (4295,-0.39) (4305,-0.26) (4325,-0.26) (4335,-0.31) (4345,-0.13) (4355,0.05) (4365,0.21) (4375,0.31) (4385,0.78) (4395,0.96) (4405,0.65) (4415,0.57) (4425,0.26) (4435,0.05) (4445,-0.13) (4455,-0.26) (4460,-0.21)
};
\addplot[sigcol, line width=1.2pt, line join=round] coordinates {
(10,3.57) (20,4.43) (30,5.08) (40,5.42) (50,5.58) (60,5.53) (70,5.4) (80,5.16) (90,4.69) (100,3.91) (110,3) (120,2.35) (130,1.83) (140,1.62) (150,1.51) (160,1.36) (170,1.25) (180,0.91) (190,0.26) (200,-0.52) (210,-1.04) (220,-1.43) (230,-1.62) (240,-1.7) (250,-1.64) (270,-1.64) (290,-1.62) (305,-1.7) (320,-1.83) (335,-2.01) (345,-1.83) (355,-1.43) (365,-0.78) (375,0.26) (385,1.3) (395,2.09) (405,2.48) (412,2.53) (420,2.35) (430,1.83) (440,1.17) (450,0.47) (460,-0.13) (470,-0.65) (480,-1.04) (490,-1.36) (500,-1.56) (510,-1.77) (520,-1.77) (530,-1.7) (545,-1.51) (555,-1.36) (565,-1.38) (575,-1.7) (585,-2.48) (595,-3.65) (605,-4.69) (615,-5.48) (625,-6) (635,-6.18) (645,-6.13) (655,-5.87) (665,-5.22) (675,-4.17) (685,-3.26) (695,-2.48) (705,-1.7) (715,-1.04) (725,-0.52) (735,-0.08) (745,0.21) (755,0.39) (765,0.52) (775,0.57) (785,0.44) (795,0) (805,-1.04) (815,-2.09) (825,-3) (835,-3.6) (845,-3.86) (855,-3.78) (865,-3.26) (875,-2.48) (885,-1.83) (895,-1.36) (905,-1.17) (920,-1.1) (935,-0.99) (950,-0.83) (960,-0.65) (970,-0.57) (980,-0.73) (990,-0.99) (1000,-0.83) (1010,-0.65) (1020,-0.52) (1030,-0.52) (1040,-0.47) (1050,-0.39) (1065,-0.57) (1075,-0.91) (1085,-0.99) (1100,-0.83) (1115,-0.83) (1130,-0.73) (1145,-0.6) (1160,-0.47) (1175,-0.3) (1190,0)
(1200,0.2) (1210,0.47) (1225,0.57) (1240,0.65) (1255,0.7) (1285,0.7) (1295,0.65) (1305,0.47) (1315,0.13) (1325,-0.52) (1335,-1.56) (1345,-2.35) (1355,-3) (1365,-3.44) (1375,-3.7) (1385,-3.83) (1400,-3.96) (1410,-3.96) (1420,-3.86) (1430,-3.52) (1440,-2.87) (1450,-2.09) (1460,-1.3) (1470,-0.78) (1480,-0.26) (1490,0.78) (1500,1.69) (1510,2.22) (1520,2.61) (1530,2.87) (1540,3.05) (1550,2.92) (1560,2.48) (1570,2.09) (1580,1.56) (1590,0.91) (1600,0.47) (1610,0.05) (1620,-0.21) (1630,-0.47) (1640,-0.65) (1650,-0.83) (1660,-0.99) (1670,-1.17) (1680,-1.43) (1690,-1.7) (1700,-1.96) (1710,-2.09) (1730,-2.09) (1740,-1.96) (1750,-1.77) (1760,-1.56) (1770,-1.38) (1780,-1.25) (1790,-1.1) (1800,-0.99) (1810,-0.78) (1820,-0.39) (1830,0) (1840,0.26) (1850,0.39) (1860,0.52) (1870,0.57) (1880,0.52) (1890,0.47) (1900,0.39) (1910,0.26) (1920,0.13) (1930,0) (1940,-0.13) (1950,-0.18) (1960,-0.13) (1970,0) (1980,0.39) (1990,1.17) (2000,1.83) (2010,2.48) (2020,3.39) (2030,4.17) (2040,4.75) (2050,5) (2060,5.08) (2070,4.95) (2080,4.82) (2090,4.69) (2100,4.56) (2110,4.3) (2120,3.91) (2130,3.13) (2140,2.35) (2150,1.69) (2160,1.17) (2170,0.91) (2180,0.78) (2190,0.65) (2200,0.47) (2210,0.26) (2220,0) (2230,0) (2240,0.52) (2250,1.3) (2260,2.09) (2270,2.87) (2280,3.52) (2290,3.78) (2300,3.83) (2310,3.65) (2320,3.26) (2330,2.87) (2340,2.61) (2350,2.35) (2360,2.09) (2370,1.96) (2380,1.88) (2390,1.88) (2400,1.96) (2410,1.96) (2420,1.83) (2430,1.56) (2440,1.25) (2450,1.17) (2460,1.3) (2470,1.69) (2480,2.22) (2490,2.87) (2500,3.44) (2510,3.78) (2520,3.86) (2530,3.78) (2540,3.52) (2550,3.13) (2560,2.74) (2570,2.48) (2580,2.22) (2590,1.96) (2600,1.83) (2610,1.69) (2620,1.43) (2630,1.04) (2640,0.52) (2650,0) (2660,-0.26) (2670,-0.52) (2680,-0.78) (2690,-1.17)
(2700,-1.43) (2710,-1.83) (2720,-2.14) (2730,-2.29) (2740,-1.83) (2750,-1.04) (2760,0) (2770,0.65) (2780,0.91) (2790,1.04) (2820,1.04) (2830,1.1) (2840,1.12) (2850,1.12) (2860,1.04) (2870,0.52) (2880,-1.3) (2890,-2.87) (2900,-4.17) (2910,-5.48) (2920,-6.13) (2930,-6.39) (2940,-6.47) (2950,-6.26) (2960,-6) (2970,-5.74) (2980,-5.48) (2990,-5.08) (3000,-4.69) (3010,-4.17) (3020,-3.52) (3030,-3) (3040,-2.48) (3050,-2.09) (3060,-1.83) (3070,-1.7) (3080,-1.56) (3090,-1.49) (3100,-1.43) (3110,-1.43) (3120,-1.36) (3130,-1.04) (3140,-0.52) (3150,-0.13) (3160,0.31) (3170,0.65) (3180,0.99) (3190,1.36) (3200,1.83) (3210,2.35) (3220,2.92) (3230,3.52) (3240,3.96) (3248,4.04) (3255,3.86) (3265,3.39) (3275,2.74) (3285,2.09) (3295,1.56) (3305,1.04) (3315,0.57) (3325,0.13) (3335,-0.21) (3345,-0.39) (3355,-0.39) (3365,-0.34) (3375,-0.13) (3385,0.05) (3395,0.05) (3405,-0.13) (3415,-0.52) (3425,-1.04) (3435,-1.43) (3445,-1.62) (3455,-1.7) (3475,-1.7) (3485,-1.62) (3495,-1.3) (3505,-0.78) (3515,-0.26) (3525,0.21) (3535,0.39) (3545,0.26) (3555,-0.26) (3565,-0.83) (3575,-1.17) (3585,-1.25) (3595,-1.17) (3605,-1.04) (3615,-0.91) (3625,-0.78) (3635,-0.65) (3645,-0.52) (3655,-0.39) (3665,-0.26) (3675,-0.13) (3685,-0.05) (3695,0.05) (3705,0.31) (3715,0.65) (3725,1.17) (3735,1.69) (3745,2.14) (3755,2.4) (3765,2.35) (3775,2.09) (3785,1.69) (3795,1.36) (3805,1.04) (3815,0.65) (3825,0.26) (3835,-0.13) (3845,-0.39) (3855,-0.57) (3865,-0.65) (3875,-0.65) (3885,-0.52) (3895,-0.39) (3905,-0.13) (3915,0.26) (3925,0.65) (3935,1.04) (3945,1.51) (3955,1.83) (3965,2.01) (3975,1.96) (3985,1.77) (3995,1.43) (4005,1.17) (4015,1.04) (4025,0.99) (4035,0.96) (4045,0.91) (4055,0.78) (4065,0.52) (4075,0.26) (4085,-0.05) (4095,-0.39) (4105,-0.65) (4115,-0.83) (4125,-1.04) (4135,-1.3) (4145,-1.51) (4155,-1.7) (4165,-1.7) (4175,-1.83) (4185,-1.96) (4195,-2.29)
(4200,-2.4) (4210,-2.87) (4220,-3.18) (4230,-3.39) (4240,-3.47) (4250,-3.39) (4260,-3.13) (4270,-2.74) (4280,-2.29) (4290,-1.83) (4300,-1.04) (4310,-0.65) (4320,-0.47) (4330,-0.39) (4340,-0.31) (4350,-0.26) (4360,-0.21) (4370,-0.08) (4380,0.21) (4390,0.31) (4400,0.47) (4410,0.6) (4420,0.57) (4430,0.52) (4440,0.39) (4450,0.21) (4460,0.05)
};
\end{axis}
\fill[white] (1766,-403.4) rectangle (1813.4,-421.2);
\draw[framecol, line width=1pt] (3.3,-421.7) -- (1814,-421.7) -- (1814,0);
\node[anchor=west, inner sep=0pt, font=\fontsize{12}{14}\selectfont, text=titlecol] at (11.5,-18) {RSI};
\node[anchor=west, inner sep=0pt, font=\fontsize{12}{14}\selectfont, text=titlecol] at (11.5,-237.7) {MACD};
\end{tikzpicture}
\end{document}
